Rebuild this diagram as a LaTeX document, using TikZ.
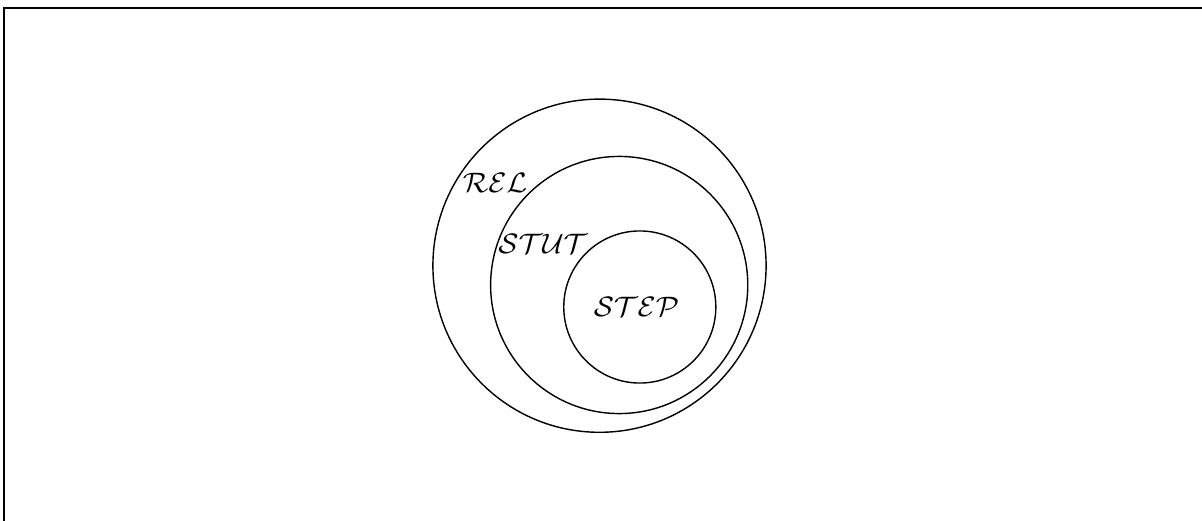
\documentclass[tikz,border=0pt]{standalone}
\usepackage{amsmath}
\usepackage{tikz}
\usetikzlibrary{positioning}

\tikzset{
    setring/.style={draw, circle, inner sep=0pt},
    setname/.style={font=\footnotesize, inner sep=0pt}
}

\begin{document}
\begin{tikzpicture}[x=0.01cm, y=-0.01cm]
    \useasboundingbox (0,0) rectangle (1202,521);

    % Frame (top and left edges only)
    \draw (1202,8) -- (4,8) -- (4,521);

    % Nested sets
    \node[setring, minimum size=3.33cm] (rel) at (599.5,265.7) {};
    \node[setring, minimum size=2.57cm] (stut) at (619.2,285) {};
    \node[setring, minimum size=1.52cm] (stepset) at (639.8,307) {};

    % Labels
    \node[setname] (rellbl) at (495,183) {$\mathcal{REL}$};
    \node[setname] (stutlbl) at (543,244) {$\mathcal{STUT}$};
    \node[setname] (steplbl) at (636.5,307) {$\mathcal{STEP}$};

\end{tikzpicture}
\end{document}
